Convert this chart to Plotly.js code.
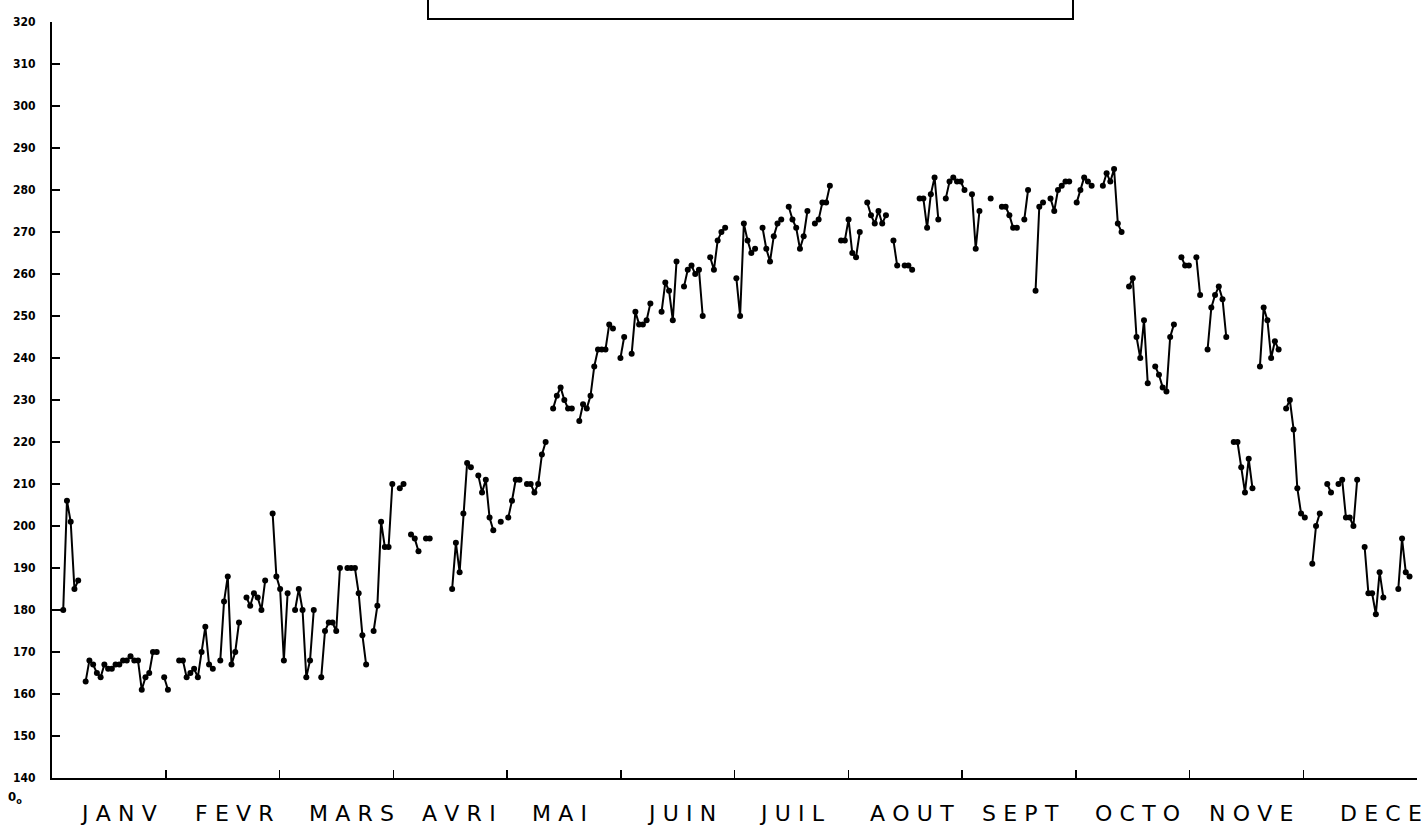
<!DOCTYPE html>
<html>
<head>
<meta charset="utf-8">
<script src="https://cdn.plot.ly/plotly-3.0.1.min.js"></script>
<style>html,body{margin:0;padding:0;background:#fff;}#chart{width:1421px;height:828px;}</style>
</head>
<body>
<div id="chart"></div>
<script>
// Daily values, one array per month (null = no reading)
var jan = [180,180,180,180,206,201,185,187,null,163,168,167,165,164,167,166,166,167,167,168,168,169,168,168,161,164,165,170,170,null,164];
var feb = [161,null,null,168,168,164,165,166,164,170,176,167,166,null,168,182,188,167,170,177,null,183,181,184,183,180,187,null];
var mar = [203,188,185,168,184,null,180,185,180,164,168,180,null,164,175,177,177,175,190,null,190,190,190,184,174,167,null,175,181,201,195];
var apr = [195,210,null,209,210,null,198,197,194,null,197,197,null,null,null,null,null,185,196,189,203,215,214,null,212,208,211,202,199,null];
var mai = [201,null,202,206,211,211,null,210,210,208,210,217,220,null,228,231,233,230,228,228,null,225,229,228,231,238,242,242,242,248,247];
var jun = [null,240,245,null,241,251,248,248,249,253,null,null,251,258,256,249,263,null,257,261,262,260,261,250,null,264,261,268,270,271];
var jul = [null,null,259,250,272,268,265,266,null,271,266,263,269,272,273,null,276,273,271,266,269,275,null,272,273,277,277,281,null,null,268];
var aou = [268,273,265,264,270,null,277,274,272,275,272,274,null,268,262,null,262,262,261,null,278,278,271,279,283,273,null,278,282,283,282];
var sep = [282,280,null,279,266,275,null,null,278,null,null,276,276,274,271,271,null,273,280,null,256,276,277,null,278,275,280,281,282,282];
var oct = [null,277,280,283,282,281,null,null,281,284,282,285,272,270,null,257,259,245,240,249,234,null,238,236,233,232,245,248,null,264,262];
var nov = [262,null,264,255,null,242,252,255,257,254,245,null,220,220,214,208,216,209,null,238,252,249,240,244,242,null,228,230,223,209];
var dec = [203,202,null,191,200,203,null,210,208,null,210,211,202,202,200,211,null,195,184,184,179,189,183,null,null,null,185,197,189,188,null];

var monthLabels = ["JANV","FEVR","MARS","AVRI","MAI","JUIN","JUIL","AOUT","SEPT","OCTO","NOVE","DECE"];
var yTicks = [140,150,160,170,180,190,200,210,220,230,240,250,260,270,280,290,300,310,320];

var values = [].concat(jan,feb,mar,apr,mai,jun,jul,aou,sep,oct,nov,dec);
var days = values.map(function(v,i){return i;});
var nDays = 365;
var monthBounds = [];
for (var k=1;k<=12;k++) monthBounds.push(k*nDays/12);

// plotter-style spacing between letters
function spaced(t){ return t.split('').join('\u2004'); }

var labelLeftPx = [78,193,307,420,530,645,757,868,980,1093,1207,1338];
var annotations = monthLabels.map(function(t,i){
  return {text:spaced(t), xref:'paper', yref:'paper', x:(labelLeftPx[i]-52)/1365, y:(778-813)/756,
          xanchor:'left', yanchor:'middle', showarrow:false,
          font:{family:'DejaVu Sans, sans-serif', size:22, color:'#000'}};
});
annotations.push({text:'0<sub>o</sub>', xref:'paper', yref:'paper', x:(6-52)/1365, y:-0.012,
  xanchor:'left', yanchor:'top', showarrow:false,
  font:{family:'Liberation Sans Narrow, DejaVu Sans Condensed, sans-serif', size:13, color:'#000', weight:'bold'}});

// line through all readings; dots from the first rise on (the opening flat run has none)
var dotValues = values.map(function(v,i){ return i < 3 ? null : v; });

var lineTrace = {
  x: days, y: values, type:'scatter', mode:'lines', connectgaps:false,
  line:{color:'#000', width:2}, hoverinfo:'skip'
};
var dotTrace = {
  x: days, y: dotValues, type:'scatter', mode:'markers',
  marker:{color:'#000', size:6, symbol:'circle', line:{width:0}},
  hoverinfo:'x+y'
};

var layout = {
  width:1421, height:828,
  margin:{l:52, r:4, t:22, b:50},
  paper_bgcolor:'#fff', plot_bgcolor:'#fff',
  showlegend:false,
  xaxis:{range:[0,nDays], tickvals:monthBounds, showticklabels:false,
         ticks:'inside', ticklen:8, tickwidth:1.5, tickcolor:'#000',
         showline:true, linecolor:'#000', linewidth:2, showgrid:false, zeroline:false, fixedrange:true},
  yaxis:{range:[140,320], tickvals:yTicks, ticktext:yTicks.map(String),
         ticks:'inside', ticklen:8, tickwidth:1.5, tickcolor:'#000',
         showline:true, linecolor:'#000', linewidth:2, showgrid:false, zeroline:false,
         ticklabelstandoff:12,
         tickfont:{family:'Liberation Sans Narrow, DejaVu Sans Condensed, sans-serif', size:12, color:'#000', weight:'bold'}},
  annotations: annotations,
  shapes:[{type:'rect', xref:'paper', yref:'paper', x0:(428-52)/1365, x1:(1073-52)/1365,
           y0:(778-19)/756, y1:1.06, line:{color:'#000', width:2}, fillcolor:'rgba(0,0,0,0)'}]
};

Plotly.newPlot('chart', [lineTrace, dotTrace], layout, {displayModeBar:false, staticPlot:true});
</script>
</body>
</html>
